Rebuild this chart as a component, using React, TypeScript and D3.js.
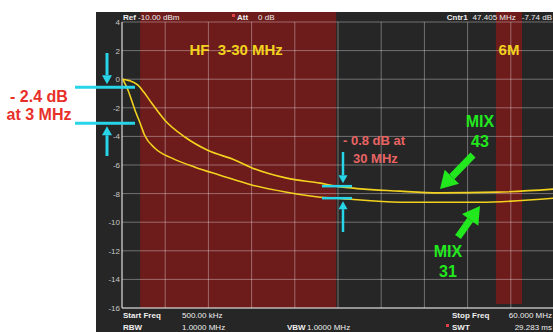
import React from "react";
import * as d3 from "d3";

// frequency in MHz, level in dB
const mix43Freq = [0.6, 1.5, 2.7, 3.5, 4.6, 6.4, 9.2, 12.3, 16.1, 18.5, 23.2, 27.8, 30, 38.8, 44.3, 52.1, 60];
const mix43Db = [0, -0.1, -0.42, -0.9, -1.68, -2.87, -4.06, -4.97, -5.66, -6.22, -6.92, -7.27, -7.48, -7.83, -7.95, -7.9, -7.68];

const mix31Freq = [0.6, 1.33, 2.29, 3.0, 3.6, 5.04, 7.39, 10.55, 14, 18.5, 23.2, 27.8, 30, 38.8, 49.8, 60];
const mix31Db = [0, -0.77, -2.17, -3.08, -3.9, -4.83, -5.52, -6.15, -6.71, -7.41, -7.9, -8.25, -8.32, -8.6, -8.6, -8.32];

const yTicks = [4, 2, 0, -2, -4, -6, -8, -10, -12, -14, -16];
const bands = [
  { label: "HF  3-30 MHz", from: 3, to: 30 },
  { label: "6M", from: 52, to: 55.6 },
];

const W = 553;
const H = 332;
const left = 122;
const right = 554;
const top = 22;
const bottom = 308;

const cyan = "#27d4e8";
const green = "#22e81e";
const yellow = "#f2d21e";
const font = "Liberation Sans, Arial, sans-serif";

function Arrow({ x1, y1, x2, y2, color, shaft, head, headLen }: any) {
  const a = Math.atan2(y2 - y1, x2 - x1);
  const bx = x2 - Math.cos(a) * headLen;
  const by = y2 - Math.sin(a) * headLen;
  const nx = -Math.sin(a);
  const ny = Math.cos(a);
  return (
    <g>
      <line x1={x1} y1={y1} x2={bx} y2={by} stroke={color} strokeWidth={shaft} />
      <polygon
        points={`${x2},${y2} ${bx + nx * head},${by + ny * head} ${bx - nx * head},${by - ny * head}`}
        fill={color}
      />
    </g>
  );
}

export default function App() {
  const x = d3.scaleLinear().domain([0.5, 60]).range([left, right]);
  const y = d3.scaleLinear().domain([-16, 4]).range([bottom, top]);
  const xTicks = d3.range(11).map((i) => 0.5 + i * 5.95);

  const line = d3
    .line<[number, number]>()
    .x((d) => x(d[0]))
    .y((d) => y(d[1]))
    .curve(d3.curveMonotoneX);

  const d43 = line(mix43Freq.map((f, i) => [f, mix43Db[i]]) as [number, number][]);
  const d31 = line(mix31Freq.map((f, i) => [f, mix31Db[i]]) as [number, number][]);

  const small = { fontFamily: font, fontSize: 8 };
  const y3a = y(-0.56);
  const y3b = y(-3.08);
  const y30a = y(-7.48);
  const y30b = y(-8.32);

  return (
    <svg width={W} height={H} style={{ position: "absolute", left: 0, top: 0, background: "#fff" }}>
      <rect x={96} y={12} width={W - 96} height={H - 12} fill="#262626" />
      {bands.map((b, i) => (
        <rect
          key={b.label}
          x={x(b.from)}
          y={12}
          width={x(b.to) - x(b.from)}
          height={(i === 0 ? bottom : bottom - 4) - 12}
          fill="#6d1b1b"
        />
      ))}
      {/* grid */}
      {yTicks.map((t) => (
        <line key={"h" + t} x1={left} x2={right} y1={y(t)} y2={y(t)} stroke="#fff" strokeOpacity={0.35} />
      ))}
      {xTicks.map((t) => (
        <line key={"v" + t} x1={x(t)} x2={x(t)} y1={top} y2={bottom} stroke="#fff" strokeOpacity={0.35} />
      ))}
      <line x1={left} x2={left} y1={top} y2={bottom} stroke="#ddd" />
      <line x1={left} x2={right} y1={bottom} y2={bottom} stroke="#ddd" />
      {yTicks.map((t) => (
        <text key={"l" + t} x={left - 2} y={y(t) + 3} textAnchor="end" fill="#c8c8c8" {...small}>
          {t}
        </text>
      ))}
      {/* header */}
      <text x={left + 1} y={20} fill="#eee" {...small}>
        <tspan fontWeight="bold">Ref</tspan> -10.00 dBm
      </text>
      <rect x={232} y={14} width={3} height={3} fill="#e0404a" />
      <text x={237} y={20} fill="#eee" {...small}>
        <tspan fontWeight="bold">Att</tspan>
        <tspan dx={10}>0 dB</tspan>
      </text>
      <text x={552} y={20} textAnchor="end" fill="#eee" {...small}>
        <tspan fontWeight="bold">Cntr1</tspan>
        <tspan dx={5}>47.405 MHz</tspan>
        <tspan dx={6}>-7.74 dB</tspan>
      </text>
      {/* footer */}
      <text x={123} y={318} fill="#eee" {...small} fontWeight="bold">Start Freq</text>
      <text x={182} y={318} fill="#eee" {...small}>500.00 kHz</text>
      <text x={123} y={330} fill="#eee" {...small} fontWeight="bold">RBW</text>
      <text x={182} y={330} fill="#eee" {...small}>1.0000 MHz</text>
      <text x={287} y={330} fill="#eee" {...small} fontWeight="bold">VBW</text>
      <text x={307} y={330} fill="#eee" {...small}>1.0000 MHz</text>
      <text x={452} y={318} fill="#eee" {...small} fontWeight="bold">Stop Freq</text>
      <text x={552} y={318} textAnchor="end" fill="#eee" {...small}>60.000 MHz</text>
      <rect x={446} y={324} width={3} height={3} fill="#e0404a" />
      <text x={452} y={330} fill="#eee" {...small} fontWeight="bold">SWT</text>
      <text x={552} y={330} textAnchor="end" fill="#eee" {...small}>29.283 ms</text>
      {/* band labels */}
      {bands.map((b) => (
        <text
          key={"b" + b.label}
          x={(x(b.from) + x(b.to)) / 2 + (b.label === "6M" ? 0 : -2)}
          y={55}
          textAnchor="middle"
          fill={yellow}
          fontFamily={font}
          fontWeight="bold"
          fontSize={15}
          style={{ whiteSpace: "pre" }}
        >
          {b.label}
        </text>
      ))}
      {/* traces */}
      <path d={d43 || ""} fill="none" stroke={yellow} strokeWidth={1.6} />
      <path d={d31 || ""} fill="none" stroke={yellow} strokeWidth={1.6} />
      {/* 3 MHz annotation */}
      <line x1={75} x2={135} y1={y3a} y2={y3a} stroke={cyan} strokeWidth={3} />
      <line x1={75} x2={135} y1={y3b} y2={y3b} stroke={cyan} strokeWidth={3} />
      <Arrow x1={107} y1={53} x2={107} y2={y3a - 3} color={cyan} shaft={3} head={5} headLen={9} />
      <Arrow x1={107} y1={156} x2={107} y2={y3b + 3} color={cyan} shaft={3} head={5} headLen={9} />
      <text x={39} y={102} textAnchor="middle" fill="#e8302a" fontFamily={font} fontWeight="bold" fontSize={16}>
        - 2.4 dB
      </text>
      <text x={39} y={120} textAnchor="middle" fill="#e8302a" fontFamily={font} fontWeight="bold" fontSize={16}>
        at 3 MHz
      </text>
      {/* 30 MHz annotation */}
      <line x1={322} x2={352} y1={y30a} y2={y30a} stroke={cyan} strokeWidth={2.5} />
      <line x1={322} x2={352} y1={y30b} y2={y30b} stroke={cyan} strokeWidth={2.5} />
      <Arrow x1={343} y1={152} x2={343} y2={y30a - 3} color={cyan} shaft={2.5} head={4.5} headLen={8} />
      <Arrow x1={343} y1={232} x2={343} y2={y30b + 3} color={cyan} shaft={2.5} head={4.5} headLen={8} />
      <text x={343} y={145} fill="#e86464" fontFamily={font} fontWeight="bold" fontSize={13}>
        - 0.8 dB at
      </text>
      <text x={353} y={163} fill="#e86464" fontFamily={font} fontWeight="bold" fontSize={13}>
        30 MHz
      </text>
      {/* MIX labels */}
      <text x={480} y={127} textAnchor="middle" fill={green} fontFamily={font} fontWeight="bold" fontSize={16}>
        MIX
      </text>
      <text x={480} y={147} textAnchor="middle" fill={green} fontFamily={font} fontWeight="bold" fontSize={16}>
        43
      </text>
      <Arrow x1={473} y1={155} x2={440} y2={189} color={green} shaft={7} head={10} headLen={17} />
      <text x={448} y={257} textAnchor="middle" fill={green} fontFamily={font} fontWeight="bold" fontSize={16}>
        MIX
      </text>
      <text x={448} y={277} textAnchor="middle" fill={green} fontFamily={font} fontWeight="bold" fontSize={16}>
        31
      </text>
      <Arrow x1={458} y1={237} x2={480} y2={206} color={green} shaft={7} head={10} headLen={17} />
    </svg>
  );
}
